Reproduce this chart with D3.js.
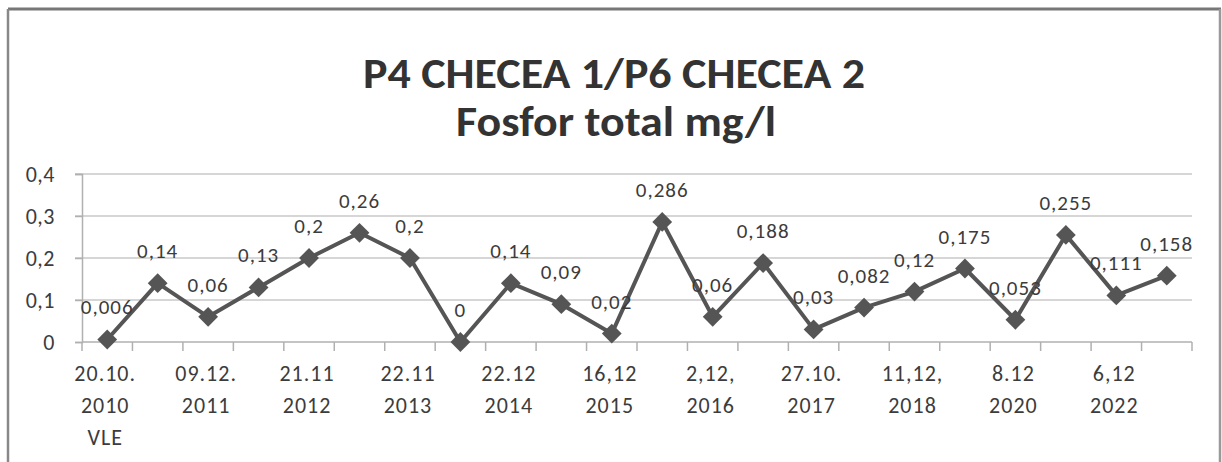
<!DOCTYPE html>
<html>
<head>
<meta charset="utf-8">
<script src="https://cdn.jsdelivr.net/npm/d3@7"></script>
<style>
  body { margin: 0; background: #fff; }
  svg { display: block; font-family: Carlito, Lato, "Open Sans", sans-serif; }
</style>
</head>
<body>
<div id="chart"></div>
<script>
// data
const dates = [
  "20.10.|2010|VLE", "", "09.12.|2011", "", "21.11|2012", "", "22.11|2013", "",
  "22.12|2014", "", "16,12|2015", "", "2,12,|2016", "", "27.10.|2017", "",
  "11,12,|2018", "", "8.12|2020", "", "6,12|2022", ""
];
const values = [0.006, 0.14, 0.06, 0.13, 0.2, 0.26, 0.2, 0, 0.14, 0.09, 0.02,
  0.286, 0.06, 0.188, 0.03, 0.082, 0.12, 0.175, 0.053, 0.255, 0.111, 0.158];
const valueLabels = ["0,006", "0,14", "0,06", "0,13", "0,2", "0,26", "0,2", "0", "0,14", "0,09", "0,02",
  "0,286", "0,06", "0,188", "0,03", "0,082", "0,12", "0,175", "0,053", "0,255", "0,111", "0,158"];
const yTicks = [0, 0.1, 0.2, 0.3, 0.4];

const W = 1222, H = 462;
const pLeft = 82, pRight = 1192, pTop = 174, pBottom = 342;
const lineColor = "#555";
const textColor = "#3c3c3c";
const fs = 21;

const svg = d3.select("#chart").append("svg")
  .attr("width", W).attr("height", H);

// frame
svg.append("line").attr("x1", 8).attr("x2", 1221).attr("y1", 9).attr("y2", 9)
  .attr("stroke", "#777").attr("stroke-width", 3);
svg.append("line").attr("x1", 8).attr("x2", 8).attr("y1", 9).attr("y2", H)
  .attr("stroke", "#888").attr("stroke-width", 2.5);
svg.append("line").attr("x1", 1220).attr("x2", 1220).attr("y1", 9).attr("y2", H)
  .attr("stroke", "#999").attr("stroke-width", 2.5);

// title (scan is a bit stretched sideways, so fit the width)
const title = svg.append("g").attr("font-weight", "bold").attr("font-size", 43).attr("fill", "#333");
title.append("text").attr("x", 363).attr("y", 88).attr("textLength", 502)
  .attr("lengthAdjust", "spacingAndGlyphs").text("P4 CHECEA 1/P6 CHECEA 2");
title.append("text").attr("x", 456).attr("y", 136).attr("textLength", 320)
  .attr("lengthAdjust", "spacingAndGlyphs").text("Fosfor total mg/l");

const x = d3.scaleBand().domain(d3.range(values.length)).range([pLeft, pRight]).padding(0);
const y = d3.scaleLinear().domain([0, 0.4]).range([pBottom, pTop]);

// gridlines
svg.append("g").selectAll("line").data(yTicks.filter(d => d > 0)).join("line")
  .attr("x1", pLeft - 7).attr("x2", pRight)
  .attr("y1", d => y(d)).attr("y2", d => y(d))
  .attr("stroke", "#c8c8c8").attr("stroke-width", 1.5);

// y axis
const yAxis = svg.append("g").attr("transform", `translate(${pLeft},0)`)
  .call(d3.axisLeft(y).tickValues(yTicks).tickSize(7).tickPadding(20)
    .tickFormat(d => d === 0 ? "0" : String(d).replace(".", ",")));
yAxis.select(".domain").attr("stroke", "#b0b0b0").attr("stroke-width", 1.5);
yAxis.selectAll(".tick line").attr("stroke", "#b0b0b0").attr("stroke-width", 1.5);
yAxis.selectAll("text").attr("font-size", fs + 1).attr("fill", textColor)
  .attr("font-family", "Carlito, Lato, sans-serif").attr("letter-spacing", 0.5);

// x axis
const xAxis = svg.append("g").attr("transform", `translate(0,${pBottom})`);
xAxis.append("line").attr("x1", pLeft).attr("x2", pRight)
  .attr("stroke", "#b0b0b0").attr("stroke-width", 1.5);
const bounds = d3.range(values.length + 1).map(i => pLeft + i * x.bandwidth());
xAxis.selectAll(".tk").data(bounds).join("line").attr("class", "tk")
  .attr("x1", d => d).attr("x2", d => d).attr("y1", 0).attr("y2", 9)
  .attr("stroke", "#b0b0b0").attr("stroke-width", 1.5);
const xl = xAxis.selectAll(".xl").data(dates.map((d, i) => ({ d, i })).filter(o => o.d))
  .join("text").attr("class", "xl")
  .attr("text-anchor", "middle").attr("font-size", fs + 1).attr("fill", textColor)
  .attr("letter-spacing", 1);
xl.each(function (o) {
  const t = d3.select(this);
  o.d.split("|").forEach((s, k) => {
    t.append("tspan").attr("x", x(o.i) + x.bandwidth() / 2 - 2)
      .attr("y", 39 + k * 32).text(s);
  });
});

// line
const line = d3.line().x((d, i) => x(i) + x.bandwidth() / 2).y(d => y(d));
svg.append("path").datum(values).attr("d", line)
  .attr("fill", "none").attr("stroke", lineColor).attr("stroke-width", 4)
  .attr("stroke-linejoin", "round");

// markers
svg.append("g").selectAll("path").data(values).join("path")
  .attr("d", d3.symbol(d3.symbolDiamond2, 250))
  .attr("transform", (d, i) => `translate(${x(i) + x.bandwidth() / 2},${y(d)})`)
  .attr("fill", lineColor);

// data labels
svg.append("g").selectAll("text").data(values).join("text")
  .attr("x", (d, i) => x(i) + x.bandwidth() / 2)
  .attr("y", d => y(d) - 25)
  .attr("text-anchor", "middle").attr("font-size", fs).attr("fill", textColor)
  .attr("letter-spacing", 1)
  .text((d, i) => valueLabels[i]);
</script>
</body>
</html>
